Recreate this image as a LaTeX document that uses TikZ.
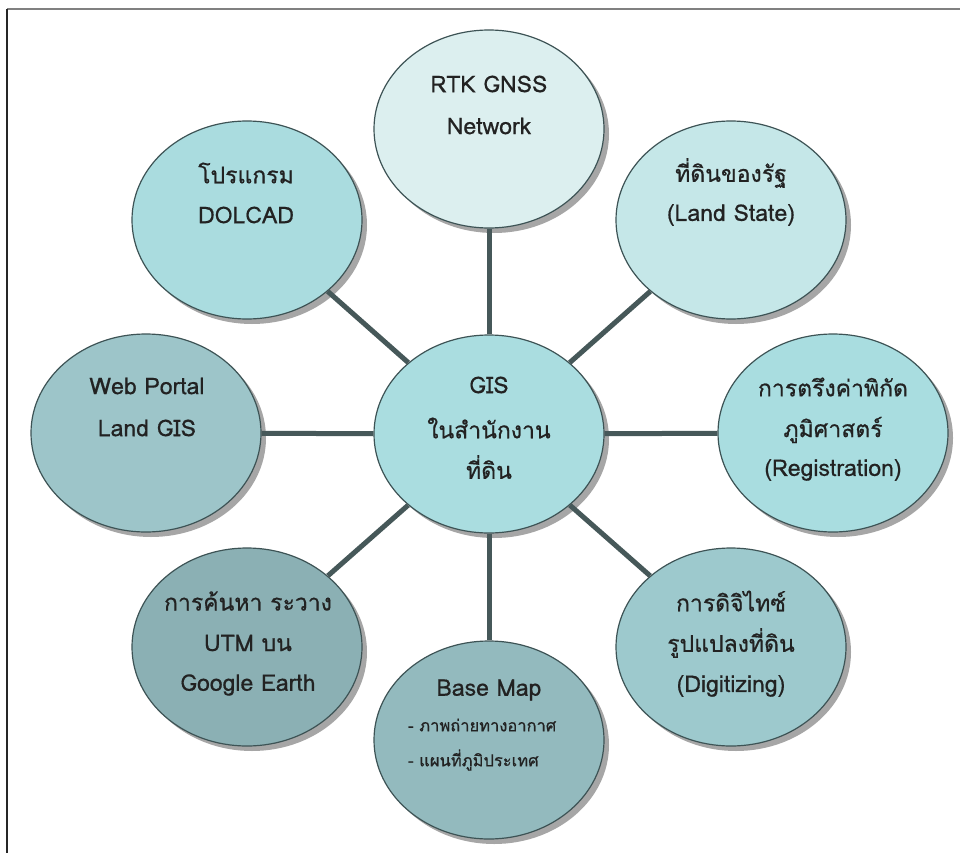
\documentclass[tikz,border=0pt]{standalone}
\usepackage{fontspec}
\setmainfont[Script=Thai,FakeBold=0.6]{Loma}
\usetikzlibrary{shapes.geometric,shadows}
\definecolor{cRtk}{HTML}{DCEFEF}
\definecolor{cLand}{HTML}{C5E7E8}
\definecolor{cProg}{HTML}{AADCDF}
\definecolor{cCen}{HTML}{AADDE0}
\definecolor{cReg}{HTML}{A9DDE0}
\definecolor{cDig}{HTML}{9DC9CD}
\definecolor{cWeb}{HTML}{9DC5C9}
\definecolor{cSrch}{HTML}{8BB0B4}
\definecolor{cBase}{HTML}{93BABE}
\definecolor{cBorder}{HTML}{3D5355}
\definecolor{cLine}{HTML}{465859}
\definecolor{cText}{HTML}{222222}
\tikzset{
  bubble/.style={ellipse, draw=cBorder, line width=1.2pt, minimum width=230pt, minimum height=198pt, inner sep=0pt,
    drop shadow={shadow xshift=5pt, shadow yshift=-5pt, fill=black!35, opacity=1}},
  link/.style={draw=cLine, line width=5pt},
  txt/.style={text=cText, font=\fontsize{23}{27}\selectfont, inner sep=0pt},
  small/.style={text=cText, font=\fontsize{16.5}{19}\selectfont, inner sep=0pt, anchor=west},
}
\begin{document}
\begin{tikzpicture}[x=1pt,y=-1pt]
\useasboundingbox (0,0) rectangle (960,853);
\fill[white] (0,0) rectangle (960,853);
\coordinate (fTL) at (7,9);
\coordinate (fTR) at (960,9);
\coordinate (fBL) at (7,853);
\draw[black!50, line width=2pt] (fTL) -- (fTR);
\draw[black!85, line width=1.5pt] (fTL) -- (fBL);

\node[bubble, fill=cRtk]  (rtk)  at (489,129) {};
\node[bubble, fill=cLand] (land) at (731,220) {};
\node[bubble, fill=cReg]  (reg)  at (833,433) {};
\node[bubble, fill=cDig]  (dig)  at (731,647) {};
\node[bubble, fill=cBase] (base) at (489,740) {};
\node[bubble, fill=cSrch] (srch) at (247,647) {};
\node[bubble, fill=cWeb]  (web)  at (146,433) {};
\node[bubble, fill=cProg] (prog) at (247,220) {};
\node[bubble, fill=cCen]  (cen)  at (489,434) {};

\foreach \n in {rtk,land,reg,dig,base,srch,web,prog}
  \draw[link] (cen) -- (\n);

\node[txt] (t-rtk1) at (489,84) {RTK GNSS};
\node[txt] (t-rtk2) at (489,126) {Network};
\node[txt] (t-land1) at (731,173) {ที่ดินของรัฐ};
\node[txt] (t-land2) at (731,215) {(Land State)};
\node[txt] (t-prog1) at (246,173) {โปรแกรม};
\node[txt] (t-prog2) at (246,215) {DOLCAD};
\node[txt] (t-web1) at (147,386) {Web Portal};
\node[txt] (t-web2) at (147,428) {Land GIS};
\node[txt] (t-cen1) at (489,385) {GIS};
\node[txt] (t-cen2) at (489,428) {ในสำนักงาน};
\node[txt] (t-cen3) at (489,467) {ที่ดิน};
\node[txt] (t-reg1) at (833,387) {การตรึงค่าพิกัด};
\node[txt] (t-reg2) at (833,430) {ภูมิศาสตร์};
\node[txt] (t-reg3) at (833,470) {(Registration)};
\node[txt] (t-srch1) at (248,601) {การค้นหา ระวาง};
\node[txt] (t-srch2) at (248,643) {UTM บน};
\node[txt] (t-srch3) at (248,685) {Google Earth};
\node[txt] (t-dig1) at (731,601) {การดิจิไทซ์};
\node[txt] (t-dig2) at (731,643) {รูปแปลงที่ดิน};
\node[txt] (t-dig3) at (731,686) {(Digitizing)};
\node[txt] (t-base1) at (489,690) {Base Map};
\node[small] (t-base2) at (408,725) {- ภาพถ่ายทางอากาศ};
\node[small] (t-base3) at (408,760) {- แผนที่ภูมิประเทศ};
\end{tikzpicture}
\end{document}
